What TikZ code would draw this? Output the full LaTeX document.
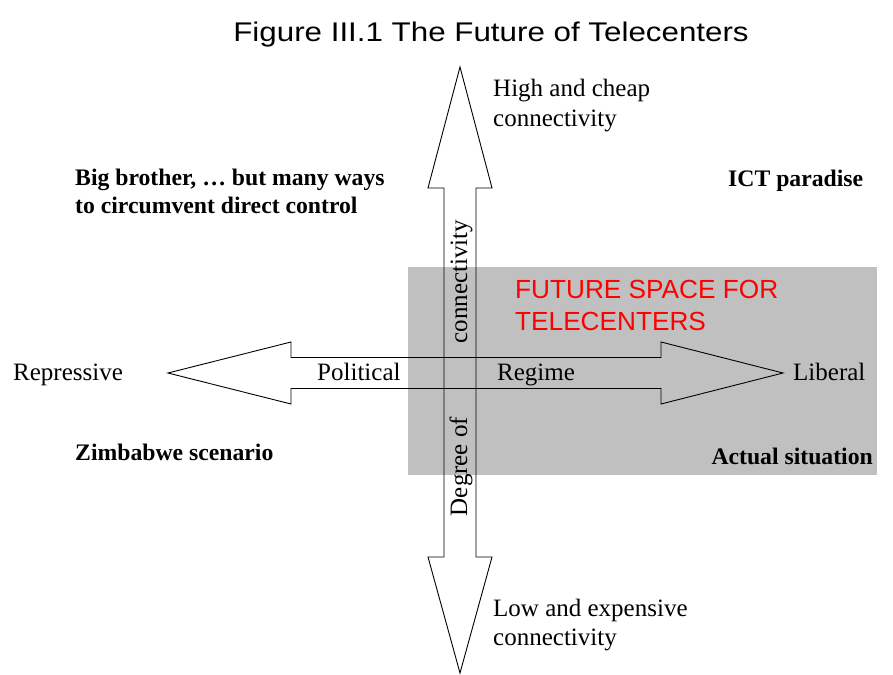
\documentclass[tikz,border=0pt]{standalone}
\usepackage{fontspec}
\usepackage{graphicx}
\setmainfont{Liberation Serif}
\newfontfamily\arial{Liberation Sans}
\definecolor{zonegray}{RGB}{192,192,192}
\definecolor{zonered}{RGB}{255,0,0}
\tikzset{
  lbl/.style={inner sep=0pt, font=\fontsize{25}{29.5}\selectfont},
  bold/.style={inner sep=0pt, font=\fontsize{23.7}{27.5}\selectfont\bfseries},
  axisarrow/.style={draw=black, line width=0.9pt, line join=miter},
}
\begin{document}
\begin{tikzpicture}[x=1pt, y=-1pt]
\useasboundingbox (0,0) rectangle (893,674);

% shaded region of the plane
\fill[zonegray] (408,267) rectangle (877,475);

% vertical axis: degree of connectivity
\draw[axisarrow] (460,67) -- (492,188) -- (476,188) -- (476,557) -- (492,557)
  -- (460,673) -- (428,557) -- (444,557) -- (444,188) -- (428,188) -- cycle;

% horizontal axis: political regime
\draw[axisarrow] (168,373) -- (291,342) -- (291,357.5) -- (661,357.5) -- (661,342)
  -- (783,373) -- (661,404) -- (661,388.5) -- (291,388.5) -- (291,404) -- cycle;

% title
\node[inner sep=0pt, anchor=base] (title) at (491,41.5)
  {\arial\fontsize{27}{30}\selectfont\scalebox{1.16}[1]{Figure III.1 The Future of Telecenters}};

% axis end labels (anchored on the last line)
\node[lbl, anchor=base west, align=left] (high) at (493,126.5) {High and cheap\\connectivity};
\node[lbl, anchor=base west, align=left] (low) at (493,645.5) {Low and expensive\\connectivity};
\node[lbl, anchor=base west] (repr) at (13,380.5) {Repressive};
\node[lbl, anchor=base west] (lib) at (793,380.5) {Liberal};

% axis names
\node[lbl, anchor=base west] (pol) at (317,380.5) {Political};
\node[lbl, anchor=base west] (reg) at (497,380.5) {Regime};
\node[lbl, anchor=base, rotate=90] (conn) at (467,281.5) {connectivity};
\node[lbl, anchor=base, rotate=90] (deg) at (467,466.5) {Degree of};

% scenarios
\node[bold, anchor=base west, align=left] (big) at (75,213) {Big brother, … but many ways\\to circumvent direct control};
\node[bold, anchor=base west] (ict) at (728,186) {ICT paradise};
\node[bold, anchor=base west] (zim) at (75,460) {Zimbabwe scenario};
\node[bold, anchor=base east] (act) at (873,464) {Actual situation};

% future space
\node[inner sep=0pt, anchor=base west, align=left, text=zonered,
  font=\arial\fontsize{26.2}{32}\selectfont] (fut) at (515,330) {FUTURE SPACE FOR\\TELECENTERS};
\end{tikzpicture}
\end{document}
